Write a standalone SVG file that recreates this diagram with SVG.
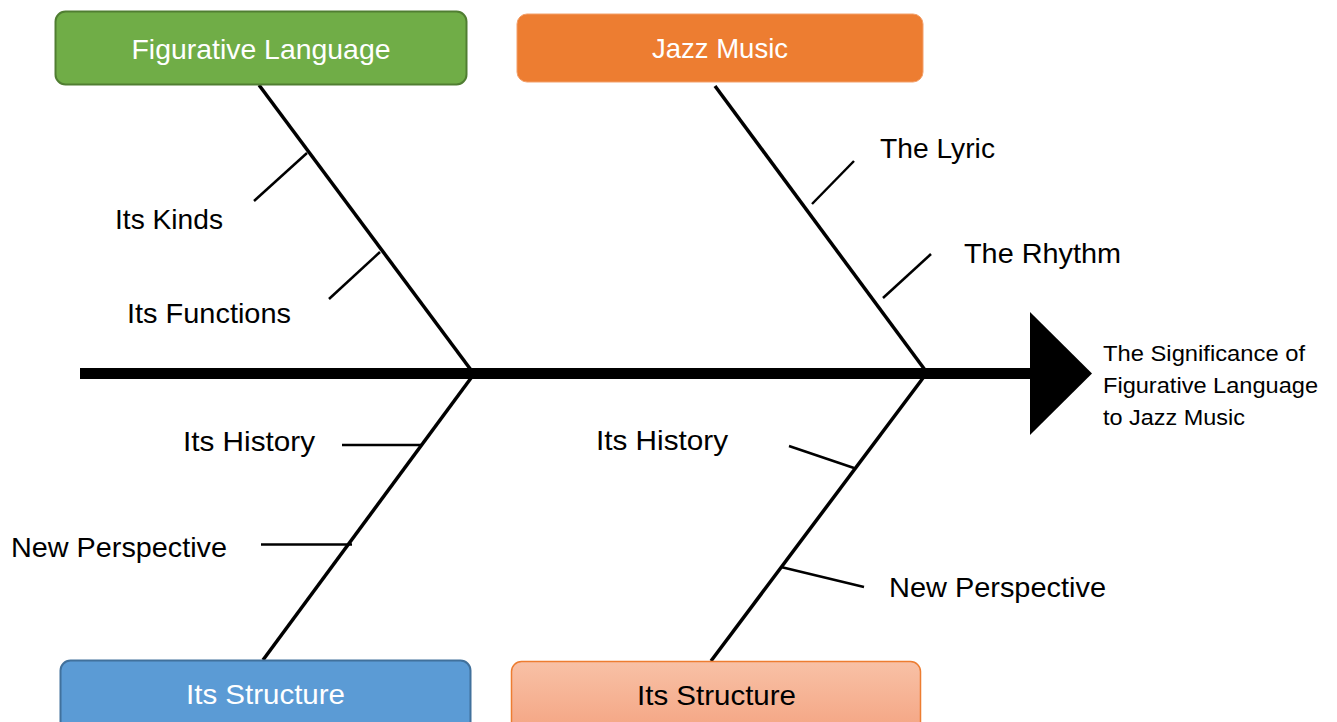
<svg xmlns="http://www.w3.org/2000/svg" width="1337" height="722" viewBox="0 0 1337 722">
<defs>
<linearGradient id="peach" x1="0" y1="0" x2="0" y2="1">
<stop offset="0" stop-color="#F8C1A6"/>
<stop offset="1" stop-color="#F4A482"/>
</linearGradient>
</defs>
<style>
text{font-family:"Liberation Sans",Arial,sans-serif;font-size:28px;fill:#000}
.w{fill:#fff;text-anchor:middle}
.blk{text-anchor:middle}
.bone{stroke:#000;stroke-width:3.5;fill:none}
.tick{stroke:#000;stroke-width:2.5;fill:none}
.res{font-size:22px}
</style>
<rect width="1337" height="722" fill="#fff"/>
<g id="connectors">
<line x1="80" y1="373.5" x2="1035" y2="373.5" stroke="#000" stroke-width="11"/>
<polygon points="1030,312 1092,373.5 1030,435" fill="#000"/>
<line class="bone" x1="259" y1="85" x2="474" y2="374"/>
<line class="bone" x1="474" y1="374" x2="263" y2="660"/>
<line class="bone" x1="715" y1="86" x2="928" y2="374"/>
<line class="bone" x1="926" y1="374" x2="711" y2="661"/>
<line class="tick" x1="254" y1="201" x2="307" y2="153"/>
<line class="tick" x1="329" y1="299" x2="380" y2="252"/>
<line class="tick" x1="812" y1="204" x2="854" y2="161"/>
<line class="tick" x1="883" y1="298" x2="931" y2="254"/>
<line class="tick" x1="342" y1="445" x2="421" y2="445"/>
<line class="tick" x1="261" y1="544.5" x2="352" y2="544.5"/>
<line class="tick" x1="789" y1="446" x2="854" y2="468"/>
<line class="tick" x1="781" y1="567" x2="864" y2="587"/>
</g>
<g id="node-figurative-language">
<rect x="55.5" y="11.5" width="411" height="73" rx="10" fill="#70AD47" stroke="#507E32" stroke-width="2"/>
<text class="w" x="261" y="59" textLength="259" lengthAdjust="spacingAndGlyphs">Figurative Language</text>
</g>
<g id="node-jazz-music">
<rect x="517" y="14" width="406" height="68" rx="10" fill="#ED7D31" stroke="#F3A06A" stroke-width="1"/>
<text class="w" x="720" y="58" textLength="136" lengthAdjust="spacingAndGlyphs">Jazz Music</text>
</g>
<g id="node-structure-left">
<rect x="60.5" y="660.5" width="410" height="72" rx="10" fill="#5B9BD5" stroke="#41719C" stroke-width="2"/>
<text class="w" x="265.5" y="704" textLength="159" lengthAdjust="spacingAndGlyphs">Its Structure</text>
</g>
<g id="node-structure-right">
<rect x="511.5" y="661.5" width="409" height="72" rx="10" fill="url(#peach)" stroke="#ED7D31" stroke-width="1.5"/>
<text class="blk" x="716.5" y="705" textLength="159" lengthAdjust="spacingAndGlyphs">Its Structure</text>
</g>
<g id="labels">
<text x="115" y="229" textLength="108" lengthAdjust="spacingAndGlyphs">Its Kinds</text>
<text x="127" y="323" textLength="164" lengthAdjust="spacingAndGlyphs">Its Functions</text>
<text x="880" y="158" textLength="115" lengthAdjust="spacingAndGlyphs">The Lyric</text>
<text x="964" y="263" textLength="157" lengthAdjust="spacingAndGlyphs">The Rhythm</text>
<text x="183" y="451" textLength="132" lengthAdjust="spacingAndGlyphs">Its History</text>
<text x="11" y="557" textLength="216" lengthAdjust="spacingAndGlyphs">New Perspective</text>
<text x="596" y="450" textLength="132" lengthAdjust="spacingAndGlyphs">Its History</text>
<text x="889" y="597" textLength="217" lengthAdjust="spacingAndGlyphs">New Perspective</text>
</g>
<g id="node-result">
<text class="res" x="1103" y="361" textLength="202" lengthAdjust="spacingAndGlyphs">The Significance of</text>
<text class="res" x="1103" y="393" textLength="215" lengthAdjust="spacingAndGlyphs">Figurative Language</text>
<text class="res" x="1103" y="425" textLength="142" lengthAdjust="spacingAndGlyphs">to Jazz Music</text>
</g>
</svg>
